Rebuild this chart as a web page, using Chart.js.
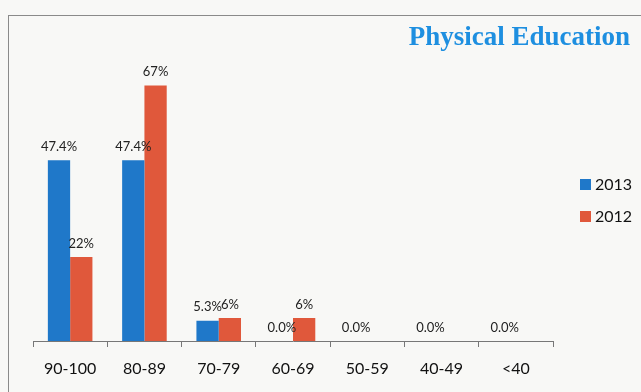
<!DOCTYPE html>
<html>
<head>
<meta charset="utf-8">
<script src="https://cdn.jsdelivr.net/npm/chart.js@4.4.0/dist/chart.umd.min.js"></script>
<style>
  html, body { margin: 0; padding: 0; background: #f8f8f6; }
  #wrap { position: relative; width: 641px; height: 392px; }
  #frame {
    position: absolute; left: 8px; top: 15px; right: -2px; bottom: -2px;
    border-left: 1px solid #8a8a8a; border-top: 1px solid #8a8a8a;
  }
  canvas { position: absolute; left: 0; top: 0; }
</style>
</head>
<body>
<div id="wrap">
  <div id="frame"></div>
  <canvas id="chart" width="641" height="392"></canvas>
</div>
<script>
const categories = ["90-100", "80-89", "70-79", "60-69", "50-59", "40-49", "<40"];
const values2013 = [47.4, 47.4, 5.3, 0, 0, 0, 0];
const values2012 = [22, 67, 6, 6, null, null, null];
const seriesNames = ["2013", "2012"];
const decimals = [1, 0];

const blue = "#1f78c9";
const red = "#e0583b";

// value labels above bars, like excel data labels
const valueLabels = {
  id: "valueLabels",
  afterDatasetsDraw(chart) {
    const ctx = chart.ctx;
    ctx.save();
    ctx.font = "13px Lato";
    ctx.fillStyle = "#222";
    ctx.textAlign = "center";
    ctx.textBaseline = "bottom";
    chart.data.datasets.forEach((ds, i) => {
      chart.getDatasetMeta(i).data.forEach((bar, j) => {
        const v = ds.data[j];
        if (v === null) return;
        ctx.fillText(v.toFixed(decimals[i]) + "%", bar.x, bar.y - 7);
      });
    });
    ctx.restore();
  },
};

// legend drawn to the right of the plot
const sideLegend = {
  id: "sideLegend",
  afterDraw(chart) {
    const ctx = chart.ctx;
    const x = chart.chartArea.right + 27;
    ctx.save();
    ctx.font = "16px Lato";
    ctx.textBaseline = "middle";
    chart.data.datasets.forEach((ds, i) => {
      const y = 184 + i * 32;
      ctx.fillStyle = ds.backgroundColor;
      ctx.fillRect(x, y - 5, 11, 11);
      ctx.fillStyle = "#111";
      ctx.fillText(ds.label, x + 15, y + 1);
    });
    ctx.restore();
  },
};

const ctx = document.getElementById("chart").getContext("2d");
const chart = new Chart(ctx, {
  type: "bar",
  data: {
    labels: categories,
    datasets: [
      {
        label: seriesNames[0],
        data: values2013,
        backgroundColor: blue,
        categoryPercentage: 0.6,
        barPercentage: 1.0,
      },
      {
        label: seriesNames[1],
        data: values2012,
        backgroundColor: red,
        categoryPercentage: 0.6,
        barPercentage: 1.0,
      },
    ],
  },
  options: {
    responsive: false,
    animation: false,
    layout: {
      padding: { left: 33, right: 11, top: 0, bottom: 0 },
    },
    scales: {
      x: {
        grid: {
          display: true,
          drawOnChartArea: false,
          drawTicks: true,
          tickLength: 6,
          offset: true,
          color: "#777",
        },
        border: { display: true, color: "#777" },
        ticks: {
          color: "#111",
          padding: 12,
          font: { family: "Lato", size: 16 },
        },
        afterFit: (s) => { s.height = 51; },
      },
      y: {
        display: false,
        min: 0,
        max: 72,
      },
      // empty right axis keeps room for the legend
      yRight: {
        position: "right",
        display: true,
        grid: { display: false },
        border: { display: false },
        ticks: { display: false },
        afterFit: (s) => { s.width = 77; },
      },
    },
    plugins: {
      legend: { display: false },
      tooltip: { enabled: false },
      title: {
        display: true,
        text: "Physical Education",
        align: "end",
        color: "#1e8fe0",
        font: { family: "Liberation Serif", size: 27, weight: "bold" },
        padding: { top: 22, bottom: 12 },
      },
    },
  },
  plugins: [valueLabels, sideLegend],
});
</script>
</body>
</html>
